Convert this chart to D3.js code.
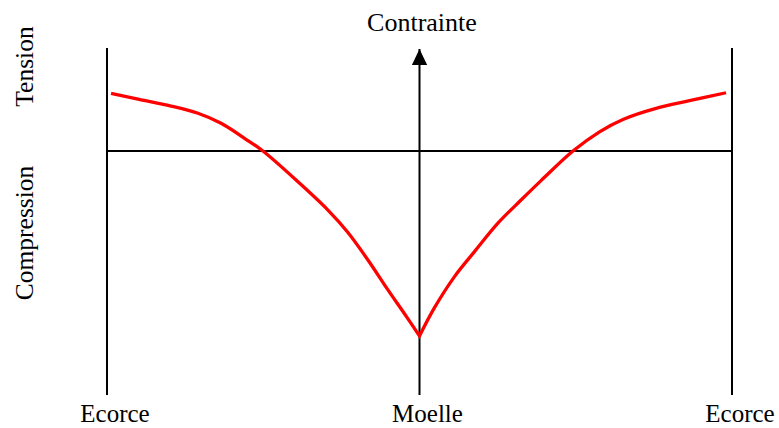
<!DOCTYPE html>
<html>
<head>
<meta charset="utf-8">
<script src="https://cdn.jsdelivr.net/npm/d3@7"></script>
<style>
  html, body { margin: 0; padding: 0; background: #fff; }
  svg text { font-family: "Liberation Serif", "Times New Roman", serif; fill: #000; }
</style>
</head>
<body>
<svg id="chart" width="779" height="428"></svg>
<script>
// === Data: stress profile across the trunk (Ecorce -> Moelle -> Ecorce) ===
// x: -1 = écorce gauche, 0 = moelle, 1 = écorce droite ; y: contrainte (tension > 0)
const leftX  = [-0.987, -0.901, -0.795, -0.709, -0.635, -0.560, -0.501, -0.389, -0.293, -0.229, -0.165, -0.101, -0.048, 0];
const leftY  = [ 0.312,  0.281,  0.243,  0.204,  0.150,  0.069,  0.000, -0.166, -0.319, -0.440, -0.589, -0.751, -0.880, -1.0];
const rightX = [0, 0.048, 0.112, 0.176, 0.251, 0.325, 0.389, 0.491, 0.576, 0.651, 0.757, 0.864, 0.981];
const rightY = [-1.0, -0.847, -0.679, -0.544, -0.390, -0.265, -0.160, 0.000, 0.104, 0.171, 0.231, 0.272, 0.315];

const positionLabels = ['Ecorce', 'Moelle', 'Ecorce'];
const positionValues = [-1, 0, 1];
const axisTitle = 'Contrainte';
const zoneLabels = [
  { text: 'Tension', value: 0.457 },
  { text: 'Compression', value: -0.443 }
];

(function () {
  const svg = d3.select('#chart');

  const x = d3.scaleLinear().domain([-1, 1]).range([107, 732]);
  const y = d3.scaleLinear().domain([-1.319, 0.557]).range([395, 48]);

  // Arrow marker for the central axis
  svg.append('defs').append('marker')
      .attr('id', 'arrow')
      .attr('viewBox', '0 0 10 10')
      .attr('refX', 10).attr('refY', 5)
      .attr('markerUnits', 'userSpaceOnUse')
      .attr('markerWidth', 16).attr('markerHeight', 16)
      .attr('orient', 'auto')
    .append('path')
      .attr('d', 'M0,0.2 L10,5 L0,9.8 Z')
      .attr('fill', '#000');

  // Vertical lines (écorce / moelle)
  svg.append('g')
    .selectAll('line')
    .data(positionValues)
    .join('line')
      .attr('x1', d => x(d)).attr('x2', d => x(d))
      .attr('y1', y.range()[0]).attr('y2', d => d === 0 ? y.range()[1] + 1 : y.range()[1])
      .attr('stroke', '#000')
      .attr('stroke-width', 2)
      .attr('marker-end', d => d === 0 ? 'url(#arrow)' : null);

  // Zero line
  svg.append('line')
      .attr('x1', x(-1)).attr('x2', x(1))
      .attr('y1', y(0)).attr('y2', y(0))
      .attr('stroke', '#000')
      .attr('stroke-width', 2);

  // Stress curve: two smooth branches meeting at a sharp point at the moelle
  const line = d3.line()
      .x(d => x(d[0]))
      .y(d => y(d[1]))
      .curve(d3.curveCatmullRom.alpha(0.5));

  const leftD = line(d3.zip(leftX, leftY));
  const rightD = line(d3.zip(rightX, rightY)).replace(/^M/, 'L');

  svg.append('path')
      .attr('d', leftD + rightD)
      .attr('fill', 'none')
      .attr('stroke', '#ff0000')
      .attr('stroke-width', 3.3)
      .attr('stroke-linejoin', 'miter');

  // Bottom labels
  svg.append('g')
    .selectAll('text')
    .data(positionValues)
    .join('text')
      .attr('x', d => x(d) + 8)
      .attr('y', 422)
      .attr('text-anchor', 'middle')
      .attr('font-size', '25px')
      .text((d, i) => positionLabels[i]);

  // Axis title
  svg.append('text')
      .attr('x', 422)
      .attr('y', 31)
      .attr('text-anchor', 'middle')
      .attr('font-size', '26px')
      .text(axisTitle);

  // Zone labels (rotated)
  svg.append('g')
    .selectAll('text')
    .data(zoneLabels)
    .join('text')
      .attr('transform', d => `translate(33,${y(d.value)}) rotate(-90)`)
      .attr('text-anchor', 'middle')
      .attr('font-size', '25.5px')
      .text(d => d.text);
})();
</script>
</body>
</html>
